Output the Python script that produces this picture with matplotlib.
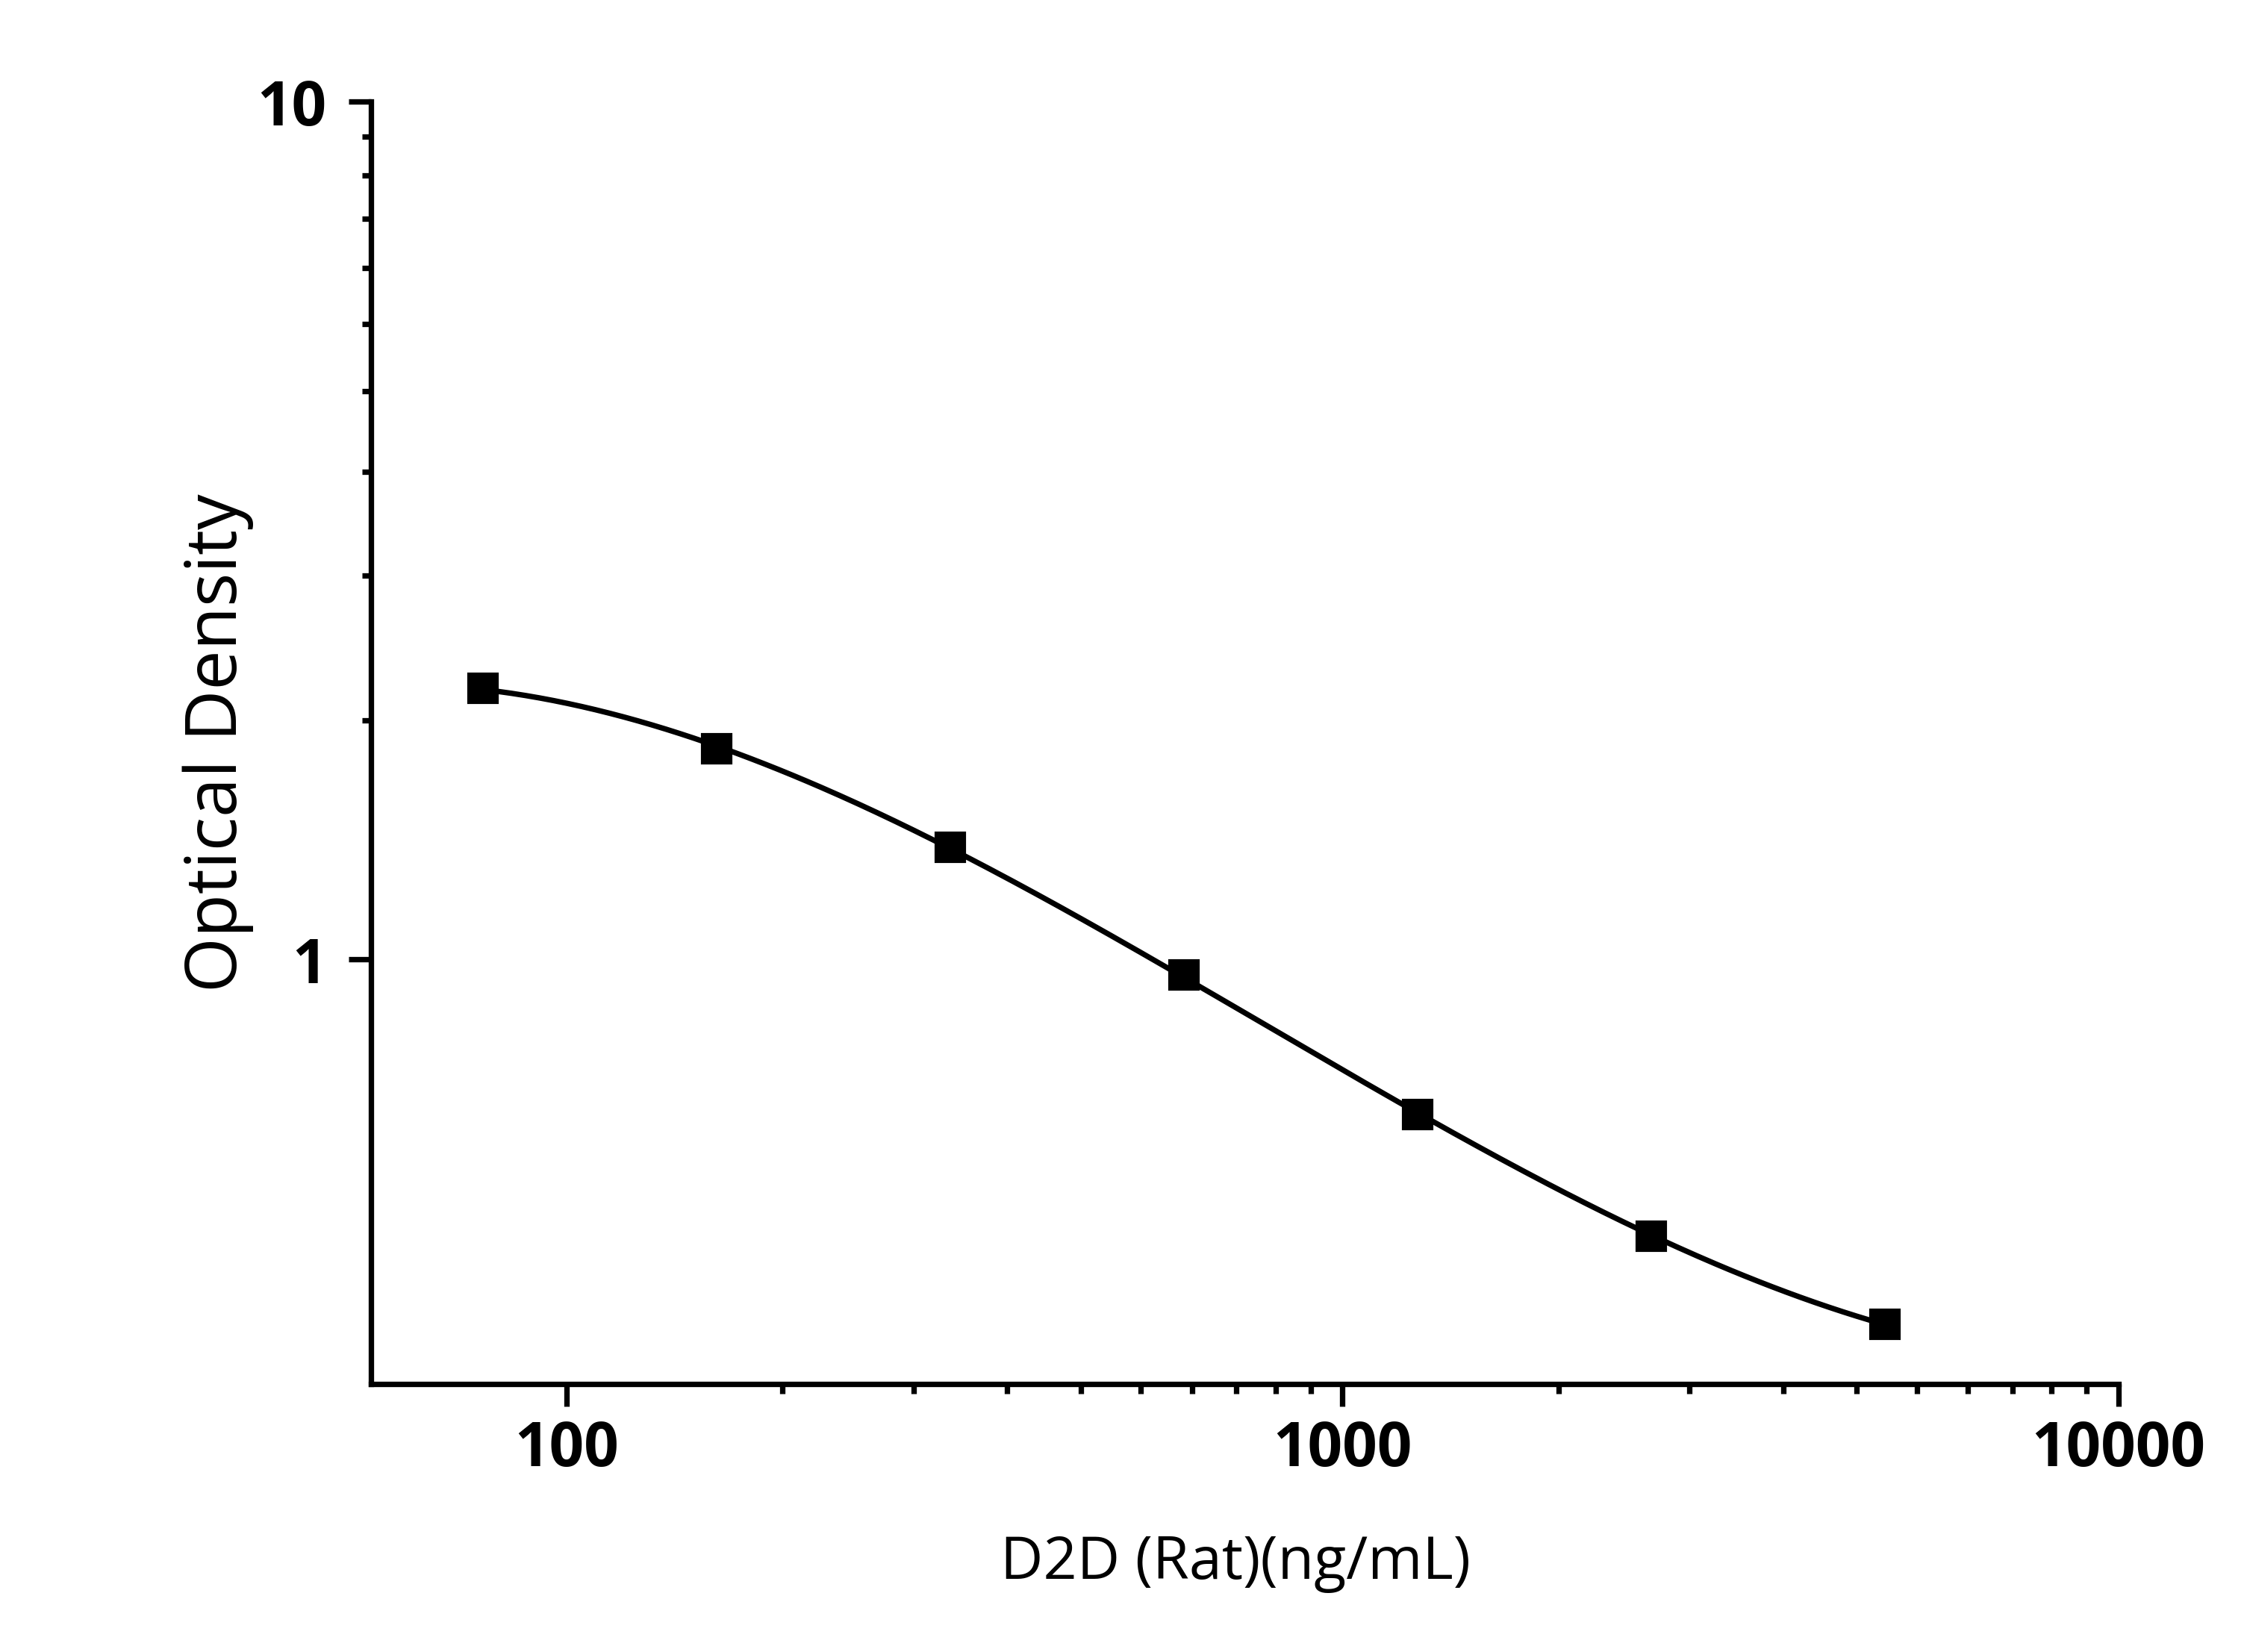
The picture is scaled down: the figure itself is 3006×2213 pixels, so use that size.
import numpy as np
import matplotlib
matplotlib.use("Agg")
import matplotlib.pyplot as plt
from matplotlib.ticker import FixedLocator, NullFormatter

# standard curve values
conc = [78.125, 156.25, 312.5, 625, 1250, 2500, 5000]
od = [2.070, 1.759, 1.351, 0.959, 0.660, 0.476, 0.376]

x_major = [100, 1000, 10000]
x_labels = ["100", "1000", "10000"]
y_major = [1, 10]
y_labels = ["1", "10"]

x_title = "D2D (Rat)(ng/mL)"
y_title = "Optical Density"

plt.rcParams['font.family'] = ['Open Sans', 'DejaVu Sans']

fig = plt.figure(figsize=(10.02, 7.3767), dpi=300)
ax = fig.add_axes([0.1653, 0.1622, 0.7788, 0.7763])

# smooth fit through the points (cubic in log-log space)
lx = np.log10(conc)
ly = np.log10(od)
coef = np.polyfit(lx, ly, 3)
xs = np.linspace(lx.min(), lx.max(), 300)
ax.plot(10 ** xs, 10 ** np.polyval(coef, xs), color="black", lw=1.75, zorder=2)
ax.plot(conc, od, linestyle="none", marker="s", markersize=9.3,
        color="black", zorder=3)

ax.set_xscale("log")
ax.set_yscale("log")
ax.set_xlim(56, 10000)
ax.set_ylim(0.32, 10)

ax.xaxis.set_major_locator(FixedLocator(x_major))
ax.set_xticklabels(x_labels)
ax.yaxis.set_major_locator(FixedLocator(y_major))
ax.set_yticklabels(y_labels)

# Origin style minor ticks, only inside the labelled decades
x_minor = [b * (1 + 0.9 * k) for b in (100, 1000) for k in range(1, 10)]
y_minor = [1 + 0.9 * k for k in range(1, 10)]
ax.xaxis.set_minor_locator(FixedLocator(x_minor))
ax.yaxis.set_minor_locator(FixedLocator(y_minor))
ax.xaxis.set_minor_formatter(NullFormatter())
ax.yaxis.set_minor_formatter(NullFormatter())

for s in ["top", "right"]:
    ax.spines[s].set_visible(False)
for s in ["left", "bottom"]:
    ax.spines[s].set_linewidth(1.75)

ax.tick_params(which="major", length=7.3, width=1.75, direction="out")
ax.tick_params(which="minor", length=3.0, width=1.75, direction="out")
ax.tick_params(axis="x", which="major", pad=4)
ax.tick_params(axis="y", which="major", pad=7)
for lab in ax.get_xticklabels() + ax.get_yticklabels():
    lab.set_fontsize(19.6)
    lab.set_fontweight("bold")

ax.set_xlabel(x_title, fontsize=19, labelpad=17)
ax.xaxis.label.set_x(0.4946)
ax.set_ylabel(y_title, fontsize=22.8, labelpad=1)

fig.savefig("out.png", dpi=300)
